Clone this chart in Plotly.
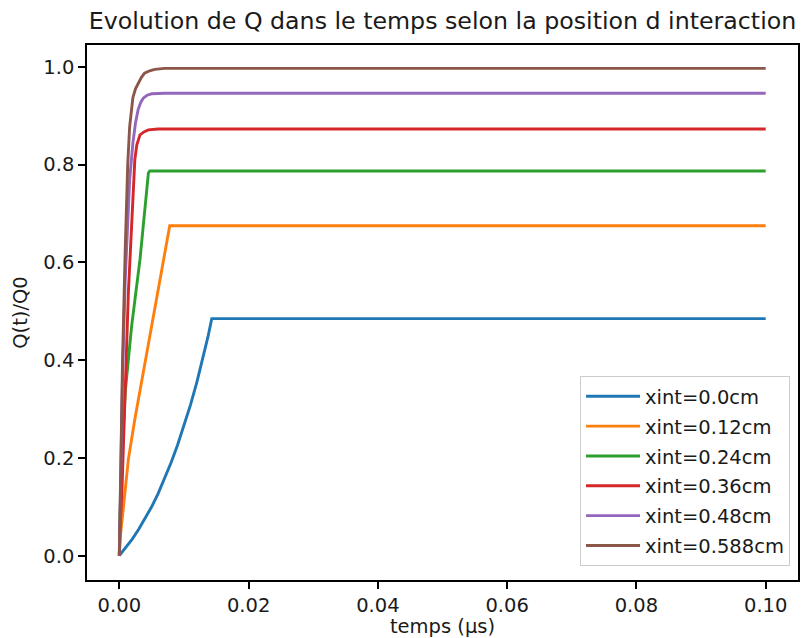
import plotly.graph_objects as go

# temps (µs) et Q(t)/Q0, une paire de listes par position
t_00 = [0.0, 0.001, 0.002, 0.003, 0.004, 0.005, 0.006, 0.007, 0.008, 0.009,
        0.010, 0.011, 0.012, 0.013, 0.0137, 0.0143, 0.1]
q_00 = [0.0, 0.016, 0.034, 0.054, 0.076, 0.100, 0.127, 0.157, 0.190, 0.226,
        0.265, 0.308, 0.355, 0.408, 0.447, 0.485, 0.485]

t_12 = [0.0, 0.0002, 0.0006, 0.001, 0.0014, 0.0024, 0.0039, 0.0055, 0.0070, 0.0078, 0.1]
q_12 = [0.0, 0.045, 0.095, 0.150, 0.197, 0.279, 0.388, 0.504, 0.619, 0.675, 0.675]

t_24 = [0.0, 0.0001, 0.0004, 0.0009, 0.0019, 0.0032, 0.0045, 0.0047, 0.1]
q_24 = [0.0, 0.080, 0.197, 0.333, 0.469, 0.606, 0.783, 0.787, 0.787]

t_36 = [0.0, 0.0001, 0.0004, 0.0009, 0.0014, 0.0019, 0.0024, 0.0027,
        0.0032, 0.0038, 0.0045, 0.0060, 0.1]
q_36 = [0.0, 0.050, 0.130, 0.334, 0.538, 0.674, 0.810, 0.840,
        0.861, 0.867, 0.871, 0.873, 0.873]

t_48 = [0.0, 0.0002, 0.0005, 0.0009, 0.0013, 0.0016, 0.0021, 0.0025, 0.0029,
        0.0033, 0.0037, 0.0043, 0.0050, 0.0070, 0.1]
q_48 = [0.0, 0.18, 0.37, 0.56, 0.70, 0.769, 0.844, 0.885, 0.912,
        0.927, 0.936, 0.942, 0.945, 0.946, 0.946]

t_588 = [0.0, 0.0002, 0.0005, 0.0009, 0.0013, 0.0016, 0.0019, 0.0021, 0.0025,
         0.0029, 0.0034, 0.0039, 0.0047, 0.0055, 0.0070, 0.1]
q_588 = [0.0, 0.20, 0.40, 0.62, 0.80, 0.878, 0.915, 0.937, 0.955,
         0.966, 0.978, 0.987, 0.992, 0.995, 0.997, 0.997]

labels = ["xint=0.0cm", "xint=0.12cm", "xint=0.24cm",
          "xint=0.36cm", "xint=0.48cm", "xint=0.588cm"]
series_t = [t_00, t_12, t_24, t_36, t_48, t_588]
series_q = [q_00, q_12, q_24, q_36, q_48, q_588]
couleurs = ["#1f77b4", "#ff7f0e", "#2ca02c", "#d62728", "#9467bd", "#8c564b"]

police = "DejaVu Sans"
encre = "#1a1a1a"

fig = go.Figure()

for t, q, nom, c in zip(series_t, series_q, labels, couleurs):
    fig.add_trace(go.Scatter(
        x=t, y=q, mode="lines", name=nom, legendgroup=nom,
        line=dict(color=c, width=2.9)
    ))

axe = dict(
    showline=True, linecolor="black", linewidth=1.5, mirror=True,
    ticks="outside", ticklen=7, tickwidth=1.5, tickcolor="black",
    showgrid=False, zeroline=False,
    tickfont=dict(family=police, size=19.5, color=encre),
)

fig.update_layout(
    width=801, height=638,
    margin=dict(l=87, r=1, t=45, b=57),
    plot_bgcolor="white", paper_bgcolor="white",
    font=dict(family=police, color=encre),
    title=dict(
        text="Evolution de Q dans le temps selon la position d interaction",
        x=0.5, xref="paper", xanchor="center",
        y=1 - 21 / 638, yref="container", yanchor="middle",
        font=dict(family=police, size=23.7, color=encre),
    ),
    xaxis=dict(axe, range=[-0.005, 0.105], tickvals=[0, 0.02, 0.04, 0.06, 0.08, 0.10],
               tickformat=".2f",
               title=dict(text="temps (µs)", font=dict(family=police, size=19.5), standoff=6)),
    yaxis=dict(axe, range=[-0.04975, 1.04475], tickvals=[0, 0.2, 0.4, 0.6, 0.8, 1.0],
               tickformat=".1f",
               title=dict(text="Q(t)/Q0", font=dict(family=police, size=19.5), standoff=11)),
    legend=dict(
        x=0.9888, y=0.026, xanchor="right", yanchor="bottom",
        bgcolor="rgba(255,255,255,0.8)", bordercolor="#cccccc", borderwidth=1,
        font=dict(family=police, size=19.5, color=encre),
        tracegroupgap=1.5, itemwidth=54,
    ),
)

# la page a une marge de 8px par défaut : on la retire pour caler la figure
fig.write_html("out.html", config={"displayModeBar": False},
               post_script="document.body.style.margin='0';")
